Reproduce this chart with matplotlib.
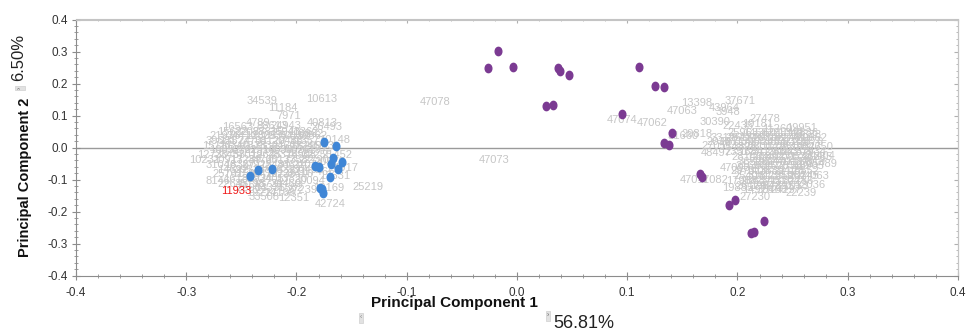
import numpy as np
import matplotlib
matplotlib.use("Agg")
import matplotlib.pyplot as plt
from matplotlib.path import Path
import matplotlib.transforms as mtransforms

# scores of the highlighted samples (PC1, PC2)
blue_x = [-0.242, -0.235, -0.222, -0.175, -0.164, -0.167, -0.159, -0.169,
          -0.183, -0.180, -0.162, -0.170, -0.179, -0.177, -0.176]
blue_y = [-0.090, -0.071, -0.068, 0.018, 0.005, -0.033, -0.044, -0.052,
          -0.058, -0.062, -0.068, -0.092, -0.125, -0.129, -0.143]

purple_x = [-0.026, -0.017, -0.004, 0.037, 0.039, 0.047, 0.026, 0.033,
            0.111, 0.125, 0.133, 0.095, 0.141, 0.133, 0.138,
            0.166, 0.168, 0.192, 0.198, 0.224, 0.212, 0.215]
purple_y = [0.249, 0.303, 0.253, 0.248, 0.240, 0.226, 0.129, 0.132,
            0.252, 0.192, 0.190, 0.104, 0.044, 0.013, 0.009,
            -0.082, -0.093, -0.179, -0.164, -0.231, -0.267, -0.264]

# sample labels, left group
left_ids = ["34539", "10613", "11184", "7971", "40813", "26493", "10148", "4789",
            "16563", "39681", "10231", "8146", "25219", "42724", "12351", "27239",
            "33508", "30094", "17631", "12169", "31746", "24917", "18862", "21452",
            "20573", "24943", "88613",
            "15622", "32087", "28815", "36943", "11362",
            "21976", "34410", "12805", "29354", "40152", "19862",
            "13574", "27701", "38129", "20486", "31357",
            "15117", "26340", "11876", "33391", "24608", "17245", "29903",
            "18852", "30761", "22519", "14038", "35826", "26197",
            "12730", "23458", "37012", "19645", "28374", "16908", "32255",
            "20917", "13289", "34760", "25133", "17582", "22790",
            "31046", "18367", "27925", "12481", "36614", "21073",
            "14692", "29518", "23804", "16327", "33049",
            "25761", "11598", "38472", "20239", "27416",
            "16183", "32934", "24057", "13820",
            "22645", "35198", "18731", "29460",
            "26903", "14376", "31582",
            "19217", "24168"]
left_x = [-0.231, -0.177, -0.212, -0.207, -0.177, -0.172, -0.165, -0.235,
          -0.253, -0.268, -0.283, -0.271, -0.135, -0.169, -0.203, -0.195,
          -0.229, -0.188, -0.165, -0.171, -0.185, -0.158, -0.190, -0.163,
          -0.170, -0.210, -0.222,
          -0.258, -0.242, -0.226, -0.210, -0.194,
          -0.265, -0.249, -0.233, -0.217, -0.201, -0.186,
          -0.256, -0.240, -0.224, -0.208, -0.193,
          -0.272, -0.257, -0.241, -0.225, -0.209, -0.193, -0.180,
          -0.265, -0.249, -0.233, -0.217, -0.201, -0.186,
          -0.276, -0.260, -0.244, -0.228, -0.212, -0.196, -0.181,
          -0.262, -0.246, -0.230, -0.214, -0.198, -0.184,
          -0.268, -0.252, -0.236, -0.220, -0.204, -0.190,
          -0.258, -0.242, -0.226, -0.210, -0.195,
          -0.262, -0.246, -0.230, -0.214, -0.199,
          -0.252, -0.236, -0.220, -0.204,
          -0.258, -0.242, -0.226, -0.210,
          -0.240, -0.224, -0.208,
          -0.232, -0.215]
left_y = [0.145, 0.152, 0.124, 0.099, 0.076, 0.064, 0.023, 0.077,
          0.064, 0.021, -0.039, -0.105, -0.124, -0.177, -0.158, -0.133,
          -0.155, -0.105, -0.089, -0.128, -0.077, -0.063, 0.042, -0.022,
          -0.045, 0.068, 0.066,
          0.050, 0.050, 0.050, 0.050, 0.050,
          0.036, 0.036, 0.036, 0.036, 0.036, 0.036,
          0.021, 0.021, 0.021, 0.021, 0.021,
          0.006, 0.006, 0.006, 0.006, 0.006, 0.006, 0.006,
          -0.009, -0.009, -0.009, -0.009, -0.009, -0.009,
          -0.024, -0.024, -0.024, -0.024, -0.024, -0.024, -0.024,
          -0.039, -0.039, -0.039, -0.039, -0.039, -0.039,
          -0.054, -0.054, -0.054, -0.054, -0.054, -0.054,
          -0.069, -0.069, -0.069, -0.069, -0.069,
          -0.084, -0.084, -0.084, -0.084, -0.084,
          -0.099, -0.099, -0.099, -0.099,
          -0.114, -0.114, -0.114, -0.114,
          -0.128, -0.128, -0.128,
          -0.143, -0.143]

# sample labels, right group and the two in the middle
right_ids = ["47074", "47062", "47063", "13398", "37671", "43964", "3948", "30390",
             "27478", "19181", "22435", "11260", "19951", "10333", "31660", "29818",
             "27051", "48497", "47011", "47082", "47093", "19885", "27230", "24404",
             "35489", "44063", "12036", "22239", "47078", "47073",
             "25963", "14582", "36017", "21349", "17836",
             "33125", "28790", "12463", "39508", "16274", "24819", "30652",
             "20381", "35714", "13960", "27245", "18593", "32108", "22876",
             "15439", "38261", "26014", "11795", "29378", "19027", "34650",
             "23517", "16841", "31290", "25663", "14208", "37934",
             "28146", "12689", "34027", "20953", "17412", "26385",
             "36528", "19374", "24701", "13156", "30819",
             "21690", "33847", "15283", "27569", "18905",
             "29731", "14067", "38394", "22128", "16552",
             "25406", "31873", "12319", "35062", "20745",
             "17988", "28637", "23451", "13704", "32286",
             "26179", "19542", "37815", "21033",
             "14926", "30468", "24297"]
right_x = [0.095, 0.123, 0.150, 0.163, 0.202, 0.188, 0.191, 0.180,
           0.225, 0.218, 0.200, 0.236, 0.258, 0.262, 0.151, 0.163,
           0.181, 0.181, 0.161, 0.178, 0.198, 0.200, 0.216, 0.275,
           0.277, 0.270, 0.265, 0.258, -0.074, -0.021,
           0.205, 0.219, 0.232, 0.246, 0.259,
           0.190, 0.203, 0.216, 0.229, 0.242, 0.255, 0.268,
           0.186, 0.199, 0.212, 0.225, 0.238, 0.251, 0.264,
           0.197, 0.210, 0.223, 0.236, 0.249, 0.262, 0.273,
           0.202, 0.215, 0.228, 0.241, 0.254, 0.267,
           0.209, 0.222, 0.235, 0.248, 0.261, 0.272,
           0.214, 0.227, 0.240, 0.253, 0.266,
           0.212, 0.225, 0.238, 0.251, 0.264,
           0.208, 0.221, 0.234, 0.247, 0.260,
           0.210, 0.223, 0.236, 0.249, 0.260,
           0.204, 0.217, 0.230, 0.243, 0.255,
           0.212, 0.225, 0.238, 0.250,
           0.218, 0.231, 0.244]
right_y = [0.086, 0.077, 0.114, 0.139, 0.145, 0.124, 0.111, 0.080,
           0.089, 0.074, 0.067, 0.058, 0.061, 0.039, 0.036, 0.042,
           0.005, -0.017, -0.102, -0.102, -0.064, -0.127, -0.155, -0.027,
           -0.052, -0.090, -0.118, -0.142, 0.143, -0.039,
           0.046, 0.046, 0.046, 0.046, 0.046,
           0.031, 0.031, 0.031, 0.031, 0.031, 0.031, 0.031,
           0.016, 0.016, 0.016, 0.016, 0.016, 0.016, 0.016,
           0.001, 0.001, 0.001, 0.001, 0.001, 0.001, 0.001,
           -0.014, -0.014, -0.014, -0.014, -0.014, -0.014,
           -0.029, -0.029, -0.029, -0.029, -0.029, -0.029,
           -0.044, -0.044, -0.044, -0.044, -0.044,
           -0.059, -0.059, -0.059, -0.059, -0.059,
           -0.074, -0.074, -0.074, -0.074, -0.074,
           -0.089, -0.089, -0.089, -0.089, -0.089,
           -0.104, -0.104, -0.104, -0.104, -0.104,
           -0.119, -0.119, -0.119, -0.119,
           -0.134, -0.134, -0.134]

red_id, red_x, red_y = "11933", -0.255, -0.136

ticks = [-0.4, -0.3, -0.2, -0.1, 0.0, 0.1, 0.2, 0.3, 0.4]
tick_labels = ["-0.4", "-0.3", "-0.2", "-0.1", "0.0", "0.1", "0.2", "0.3", "0.4"]
pc1_var = "56.81%"
pc2_var = "6.50%"

narrow = ["Liberation Sans Narrow", "Liberation Sans", "DejaVu Sans"]
plt.rcParams['font.family'] = ["Liberation Sans", "DejaVu Sans"]

fig = plt.figure(figsize=(9.66, 3.33), dpi=100)
ax = fig.add_axes([76/966, 1 - 275.5/333, 882/966, 256/333])

ax.set_xlim(-0.4, 0.4)
ax.set_ylim(-0.4, 0.4)
ax.axhline(0, color='#9a9a9a', lw=1.0, zorder=1)

lab_col = '#c6c6c6'
for t, x, y in zip(left_ids, left_x, left_y):
    ax.text(x, y, t, color=lab_col, fontsize=8, family=narrow,
            ha='center', va='center', zorder=2)
for t, x, y in zip(right_ids, right_x, right_y):
    ax.text(x, y, t, color=lab_col, fontsize=8, family=narrow,
            ha='center', va='center', zorder=2)
ax.text(red_x, red_y, red_id, color='#f01818', fontsize=8, family=narrow,
        ha='center', va='center', zorder=4)

# slightly tall oval marker like the original
oval = Path.unit_circle().transformed(mtransforms.Affine2D().scale(0.8, 1.0))
ax.plot(blue_x, blue_y, ls='none', marker=oval, ms=6, color='#3f86d6', zorder=3)
ax.plot(purple_x, purple_y, ls='none', marker=oval, ms=6, color='#7b3a92', zorder=3)

ax.set_xticks(ticks)
ax.set_xticklabels(tick_labels)
ax.set_yticks(ticks)
ax.set_yticklabels(tick_labels)
ax.set_xticks(np.arange(-0.4, 0.401, 0.02), minor=True)
ax.set_yticks(np.arange(-0.4, 0.401, 0.02), minor=True)
ax.tick_params(which='major', direction='inout', length=6, width=0.8, color='#8c8c8c',
               labelsize=8.5, labelcolor='#333333')
ax.tick_params(which='minor', direction='inout', length=3.5, width=0.6, color='#8c8c8c')
ax.tick_params(axis='x', pad=5)
ax.tick_params(axis='y', pad=3)
for lbl in ax.get_xticklabels() + ax.get_yticklabels():
    lbl.set_family(narrow)

for s in ['left', 'bottom']:
    ax.spines[s].set_color('#8c8c8c')
for s in ['top', 'right']:
    ax.spines[s].set_color('#c4c4c4')

# small inward ticks on top and right
top = ax.secondary_xaxis('top')
top.set_xticks(ticks)
top.set_xticks(np.arange(-0.4, 0.401, 0.02), minor=True)
top.tick_params(which='both', direction='in', labeltop=False, color='#b0b0b0')
top.tick_params(which='major', length=3)
top.tick_params(which='minor', length=1.5)
top.spines['top'].set_color('#c4c4c4')
right = ax.secondary_yaxis('right')
right.set_yticks(ticks)
right.set_yticks(np.arange(-0.4, 0.401, 0.02), minor=True)
right.tick_params(which='both', direction='in', labelright=False, color='#b0b0b0')
right.tick_params(which='major', length=3)
right.tick_params(which='minor', length=1.5)
right.spines['right'].set_color('#c4c4c4')

# axis titles with the explained variance
fig.text(454/966, 1 - 303/333, "Principal Component 1", fontsize=11, fontweight='bold',
         ha='center', va='center', color='#111111')
fig.text(553/966, 1 - 323/333, pc1_var, fontsize=13, ha='left', va='center', color='#222222')
fig.text(25/966, 1 - 177/333, "Principal Component 2", fontsize=10.5, fontweight='bold',
         rotation=90, ha='center', va='center', color='#111111')
fig.text(19/966, 1 - 57/333, pc2_var, fontsize=12, rotation=90, ha='center', va='center',
         color='#222222')

# little arrow buttons next to the titles
btn = dict(boxstyle='square,pad=0.15', fc='#e2e2e2', ec='#cfcfcf', lw=0.5)
fig.text(361/966, 1 - 318/333, "‹", fontsize=5, color='#888888', ha='center', va='center', bbox=btn)
fig.text(548/966, 1 - 316/333, "›", fontsize=5, color='#666666', ha='center', va='center', bbox=btn)
fig.text(20/966, 1 - 88/333, "›", fontsize=5, color='#666666', rotation=90,
         ha='center', va='center', bbox=btn)

fig.savefig("out.png", dpi=100)
